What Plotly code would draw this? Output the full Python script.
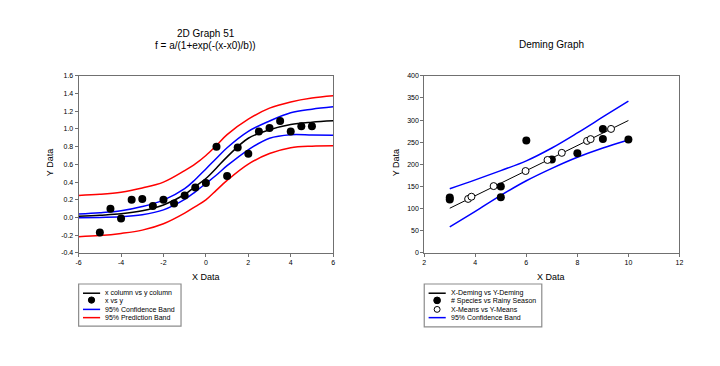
import plotly.graph_objects as go

# ---------------- Left chart data (2D Graph 51) ----------------
pts_x = [-5, -4.5, -4, -3.5, -3, -2.5, -2, -1.5, -1, -0.5, 0, 0.5, 1, 1.5, 2, 2.5, 3, 3.5, 4, 4.5, 5]
pts_y = [-0.17, 0.10, -0.01, 0.20, 0.21, 0.13, 0.20, 0.16, 0.25, 0.34, 0.39, 0.80, 0.47, 0.79, 0.72, 0.97, 1.01, 1.09, 0.97, 1.03, 1.03]

curve_x = [-6, -5, -4, -3, -2, -1, -0.5, 0, 0.5, 1, 2, 3, 4, 5, 6]
fit_y = [0.016, 0.027, 0.042, 0.076, 0.142, 0.26, 0.35, 0.44, 0.56, 0.685, 0.895, 0.99, 1.05, 1.076, 1.091]
conf_up = [0.039, 0.053, 0.076, 0.124, 0.197, 0.326, 0.43, 0.548, 0.67, 0.788, 0.973, 1.09, 1.183, 1.223, 1.249]
conf_lo = [-0.002, 0.002, 0.008, 0.031, 0.087, 0.205, 0.29, 0.385, 0.48, 0.585, 0.765, 0.895, 0.935, 0.932, 0.928]
pred_up = [0.249, 0.262, 0.286, 0.334, 0.40, 0.53, 0.605, 0.70, 0.815, 0.936, 1.11, 1.235, 1.305, 1.349, 1.375]
pred_lo = [-0.216, -0.203, -0.179, -0.142, -0.07, 0.05, 0.124, 0.20, 0.31, 0.419, 0.603, 0.722, 0.788, 0.806, 0.81]

left_xticks = [-6, -4, -2, 0, 2, 4, 6]
left_xtext = ["-6", "-4", "-2", "0", "2", "4", "6"]
left_yticks = [-0.4, -0.2, 0.0, 0.2, 0.4, 0.6, 0.8, 1.0, 1.2, 1.4, 1.6]
left_ytext = ["-0.4", "-0.2", "0.0", "0.2", "0.4", "0.6", "0.8", "1.0", "1.2", "1.4", "1.6"]
left_legend_names = ["x column vs y column", "x vs y", "95% Confidence Band", "95% Prediction Band"]

# ---------------- Right chart data (Deming Graph) ----------------
species_x = [3, 3, 5, 5, 6, 7, 8, 9, 9, 10]
species_y = [125, 121, 150, 126, 254, 211, 225, 280, 257, 256]

means_x = [3.72, 3.85, 4.72, 5.97, 6.83, 7.39, 8.38, 8.52, 9.32]
means_y = [122, 127, 151, 185, 210, 226, 253, 257, 280]

deming_x = [3, 10]
deming_y = [101, 299]

band_x = [3, 4, 5, 6, 7, 8, 9, 10]
band_up = [145, 165, 186, 208, 237, 271, 307, 343]
band_lo = [59, 94, 130, 163, 191, 216, 237, 255]

right_xticks = [2, 4, 6, 8, 10, 12]
right_yticks = [0, 50, 100, 150, 200, 250, 300, 350, 400]
right_legend_names = ["X-Deming vs Y-Deming", "# Species vs Rainy Season", "X-Means vs Y-Means", "95% Confidence Band"]

FONT = "Arial, Liberation Sans, sans-serif"
W, H = 720, 366
BLUE = "#0000FF"
RED = "#FF0000"

fig = go.Figure()

def line_trace(x, y, color, width, xa, ya, spline=True):
    fig.add_trace(go.Scatter(x=x, y=y, mode="lines",
                             line=dict(color=color, width=width, shape="spline" if spline else "linear"),
                             showlegend=False, xaxis=xa, yaxis=ya, hoverinfo="skip"))

# Left traces
line_trace(curve_x, fit_y, "black", 1.5, "x", "y")
line_trace(curve_x, conf_up, BLUE, 1.5, "x", "y")
line_trace(curve_x, conf_lo, BLUE, 1.5, "x", "y")
line_trace(curve_x, pred_up, RED, 1.5, "x", "y")
line_trace(curve_x, pred_lo, RED, 1.5, "x", "y")
fig.add_trace(go.Scatter(x=pts_x, y=pts_y, mode="markers", marker=dict(color="black", size=8),
                         showlegend=False, xaxis="x", yaxis="y"))

# Right traces
line_trace(deming_x, deming_y, "black", 1, "x2", "y2", spline=False)
line_trace(band_x, band_up, BLUE, 1.5, "x2", "y2")
line_trace(band_x, band_lo, BLUE, 1.5, "x2", "y2")
fig.add_trace(go.Scatter(x=species_x, y=species_y, mode="markers", marker=dict(color="black", size=8),
                         showlegend=False, xaxis="x2", yaxis="y2"))
fig.add_trace(go.Scatter(x=means_x, y=means_y, mode="markers",
                         marker=dict(color="white", size=7, line=dict(color="black", width=1)),
                         showlegend=False, xaxis="x2", yaxis="y2"))

def px_x(p):
    return p / W

def px_y(p):
    return 1 - p / H

axis_common = dict(showline=True, mirror=True, linecolor="#707070", linewidth=1,
                   ticks="outside", ticklen=3, tickcolor="#707070", showgrid=False, zeroline=False,
                   tickfont=dict(family=FONT, size=7, color="black"))

fig.update_layout(
    width=W, height=H,
    margin=dict(l=0, r=0, t=0, b=0),
    paper_bgcolor="white", plot_bgcolor="white",
    font=dict(family=FONT, color="black"),
    showlegend=False,
    xaxis=dict(domain=[px_x(68.3), px_x(325.3)], range=[-6, 6], tickvals=left_xticks, ticktext=left_xtext,
               anchor="y", **axis_common),
    yaxis=dict(domain=[px_y(245.7), px_y(65)], range=[-0.4, 1.6], tickvals=left_yticks, ticktext=left_ytext,
               anchor="x", **axis_common),
    xaxis2=dict(domain=[px_x(417.3), px_x(675)], range=[2, 12], tickvals=right_xticks,
                anchor="y2", **axis_common),
    yaxis2=dict(domain=[px_y(245.7), px_y(65)], range=[0, 400], tickvals=right_yticks,
                anchor="x2", **axis_common),
)

def txt(text, x, y, size, anchor="center", angle=0):
    fig.add_annotation(text=text, x=px_x(x), y=px_y(y), xref="paper", yref="paper",
                       xanchor=anchor, yanchor="middle", showarrow=False, textangle=angle,
                       font=dict(family=FONT, size=size, color="black"))

txt("2D Graph 51", 196.5, 22, 10)
txt("f = a/(1+exp(-(x-x0)/b))", 196.5, 34, 10)
txt("Deming Graph", 546, 33, 10)
txt("X Data", 196.8, 270.5, 9)
txt("X Data", 545.7, 270.5, 9)
txt("Y Data", 39.5, 154, 9, angle=-90)
txt("Y Data", 389, 154, 9, angle=-90)

# ---------------- Manual compact legends ----------------
def rect(x0, y0, x1, y1):
    fig.add_shape(type="rect", xref="paper", yref="paper", x0=px_x(x0), x1=px_x(x1), y0=px_y(y1), y1=px_y(y0),
                  line=dict(color="#8c8c8c", width=1.2), fillcolor="white", layer="above")

def hline(x0, x1, y, color, width):
    fig.add_shape(type="line", xref="paper", yref="paper", x0=px_x(x0), x1=px_x(x1), y0=px_y(y), y1=px_y(y),
                  line=dict(color=color, width=width), layer="above")

def dot(cx, cy, r, fill, edge="black"):
    fig.add_shape(type="circle", xref="paper", yref="paper", x0=px_x(cx - r), x1=px_x(cx + r),
                  y0=px_y(cy + r), y1=px_y(cy - r), line=dict(color=edge, width=1), fillcolor=fill, layer="above")

rows = [286.7, 294.5, 303.2, 311.6]

# left legend
rect(68.3, 277.3, 171.7, 320.3)
hline(72.7, 90, rows[0], "black", 1.5)
dot(81.3, rows[1] - 0.8, 3.2, "black")
hline(72.7, 90, rows[2], BLUE, 1.5)
hline(72.7, 90, rows[3], RED, 1.5)
for name, ry in zip(left_legend_names, rows):
    txt(name, 93.3, ry - 0.3, 7, anchor="left")

# right legend
rect(417.3, 277.3, 536, 321)
hline(421.7, 439, rows[0], "black", 1.5)
dot(430.3, rows[1] - 0.5, 3.4, "black")
dot(430.3, rows[2], 3.0, "white")
hline(421.7, 439, rows[3], BLUE, 1.5)
for name, ry in zip(right_legend_names, rows):
    txt(name, 442.7, ry - 0.3, 7, anchor="left")

fig.write_html("out.html")
